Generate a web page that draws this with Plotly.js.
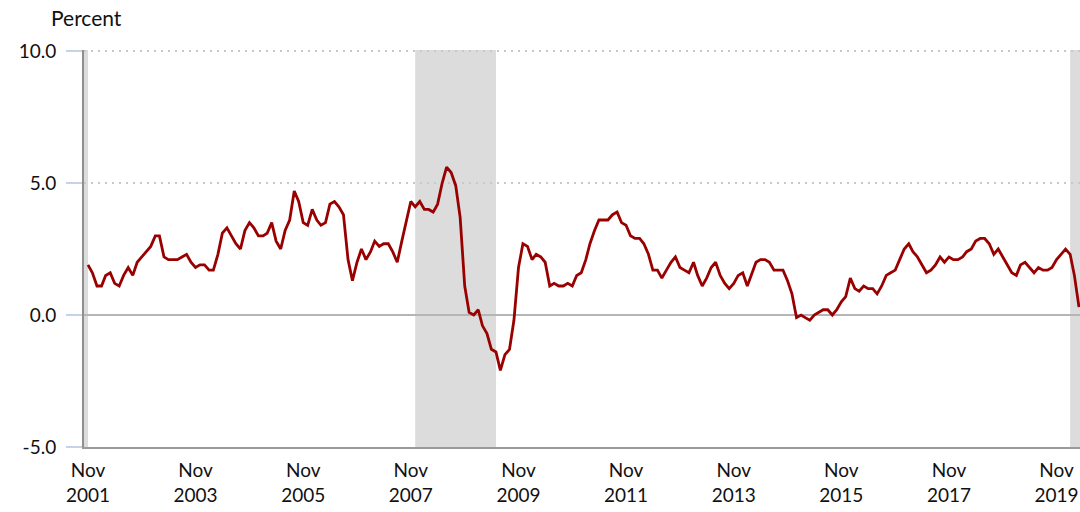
<!DOCTYPE html>
<html>
<head>
<meta charset="utf-8">
<script src="https://cdn.plot.ly/plotly-3.0.1.min.js"></script>
<style>
  html, body { margin: 0; padding: 0; background: #ffffff; }
  #chart { width: 1080px; height: 512px; }
</style>
</head>
<body>
<div id="chart"></div>
<script>
// Monthly 12-month percent change, Nov 2001 – Apr 2020
const startMonth = '2001-11';
const values = [
  1.9, 1.6,
  1.1, 1.1, 1.5, 1.6, 1.2, 1.1, 1.5, 1.8, 1.5, 2.0, 2.2, 2.4,
  2.6, 3.0, 3.0, 2.2, 2.1, 2.1, 2.1, 2.2, 2.3, 2.0, 1.8, 1.9,
  1.9, 1.7, 1.7, 2.3, 3.1, 3.3, 3.0, 2.7, 2.5, 3.2, 3.5, 3.3,
  3.0, 3.0, 3.1, 3.5, 2.8, 2.5, 3.2, 3.6, 4.7, 4.3, 3.5, 3.4,
  4.0, 3.6, 3.4, 3.5, 4.2, 4.3, 4.1, 3.8, 2.1, 1.3, 2.0, 2.5,
  2.1, 2.4, 2.8, 2.6, 2.7, 2.7, 2.4, 2.0, 2.8, 3.5, 4.3, 4.1,
  4.3, 4.0, 4.0, 3.9, 4.2, 5.0, 5.6, 5.4, 4.9, 3.7, 1.1, 0.1,
  0.0, 0.2, -0.4, -0.7, -1.3, -1.4, -2.1, -1.5, -1.3, -0.2, 1.8, 2.7,
  2.6, 2.1, 2.3, 2.2, 2.0, 1.1, 1.2, 1.1, 1.1, 1.2, 1.1, 1.5,
  1.6, 2.1, 2.7, 3.2, 3.6, 3.6, 3.6, 3.8, 3.9, 3.5, 3.4, 3.0,
  2.9, 2.9, 2.7, 2.3, 1.7, 1.7, 1.4, 1.7, 2.0, 2.2, 1.8, 1.7,
  1.6, 2.0, 1.5, 1.1, 1.4, 1.8, 2.0, 1.5, 1.2, 1.0, 1.2, 1.5,
  1.6, 1.1, 1.5, 2.0, 2.1, 2.1, 2.0, 1.7, 1.7, 1.7, 1.3, 0.8,
  -0.1, 0.0, -0.1, -0.2, 0.0, 0.1, 0.2, 0.2, 0.0, 0.2, 0.5, 0.7,
  1.4, 1.0, 0.9, 1.1, 1.0, 1.0, 0.8, 1.1, 1.5, 1.6, 1.7, 2.1,
  2.5, 2.7, 2.4, 2.2, 1.9, 1.6, 1.7, 1.9, 2.2, 2.0, 2.2, 2.1,
  2.1, 2.2, 2.4, 2.5, 2.8, 2.9, 2.9, 2.7, 2.3, 2.5, 2.2, 1.9,
  1.6, 1.5, 1.9, 2.0, 1.8, 1.6, 1.8, 1.7, 1.7, 1.8, 2.1, 2.3,
  2.5, 2.3, 1.5, 0.3
];

// Recession periods (shaded)
const recessionStarts = ['2001-03-01', '2007-12-01', '2020-02-01'];
const recessionEnds   = ['2001-11-01', '2009-06-01', '2020-06-01'];

// X tick positions and labels
const tickDates  = ['2001-11-01','2003-11-01','2005-11-01','2007-11-01','2009-11-01',
                    '2011-11-01','2013-11-01','2015-11-01','2017-11-01','2019-11-01'];
const tickLabels = ['Nov<br>2001','Nov<br>2003','Nov<br>2005','Nov<br>2007','Nov<br>2009',
                    'Nov<br>2011','Nov<br>2013','Nov<br>2015','Nov<br>2017','Nov<br>2019'];

// Y ticks
const yTickVals = [-5, 0, 5, 10];
const yTickText = ['-5.0', '0.0', '5.0', '10.0'];

// build date array from start month
const [sy, sm] = startMonth.split('-').map(Number);
const dates = values.map((v, i) => {
  const m0 = sm - 1 + i;
  const y = sy + Math.floor(m0 / 12);
  const m = (m0 % 12) + 1;
  return y + '-' + String(m).padStart(2, '0') + '-01';
});

const FONT = 'Lato, "Open Sans", "DejaVu Sans", sans-serif';

const shapes = recessionStarts.map((s, i) => ({
  type: 'rect', xref: 'x', yref: 'paper',
  x0: s, x1: recessionEnds[i], y0: 0, y1: 1,
  fillcolor: '#dcdcdc', line: { width: 0 }, layer: 'below'
}));

const trace = {
  x: dates, y: values, type: 'scatter', mode: 'lines',
  line: { color: '#990000', width: 2.8 },
  hoverinfo: 'x+y'
};

const layout = {
  width: 1080, height: 512,
  margin: { l: 84, r: 0, t: 50, b: 65 },
  paper_bgcolor: '#ffffff', plot_bgcolor: 'rgba(0,0,0,0)',
  showlegend: false,
  font: { family: FONT, size: 18, color: '#111111' },
  xaxis: {
    type: 'date',
    range: ['2001-10-05', '2020-04-08'],
    tickvals: tickDates, ticktext: tickLabels,
    ticks: '', showgrid: false, zeroline: false,
    showline: true, linecolor: '#9a9a9a', linewidth: 2, mirror: false,
    tickfont: { family: FONT, size: 19, color: '#111111' },
    ticklabelstandoff: 5
  },
  yaxis: {
    range: [-5, 10.04],
    tickvals: yTickVals, ticktext: yTickText,
    ticks: 'outside', ticklen: 16, tickcolor: '#c5d3ea', tickwidth: 2,
    showgrid: true, gridcolor: '#c8c8c8', griddash: '2px,5px', gridwidth: 1.5,
    zeroline: true, zerolinecolor: '#b5b5b5', zerolinewidth: 1.5,
    showline: true, linecolor: '#8f8f8f', linewidth: 2,
    tickfont: { family: FONT, size: 19, color: '#111111' },
    ticklabelstandoff: 6
  },
  shapes: shapes,
  annotations: [{
    text: 'Percent', xref: 'paper', yref: 'paper',
    x: -0.035, y: 1.083, xanchor: 'left', yanchor: 'middle',
    showarrow: false, font: { family: FONT, size: 21, color: '#111111' }
  }]
};

Plotly.newPlot('chart', [trace], layout, { displayModeBar: false, staticPlot: true });
</script>
</body>
</html>
